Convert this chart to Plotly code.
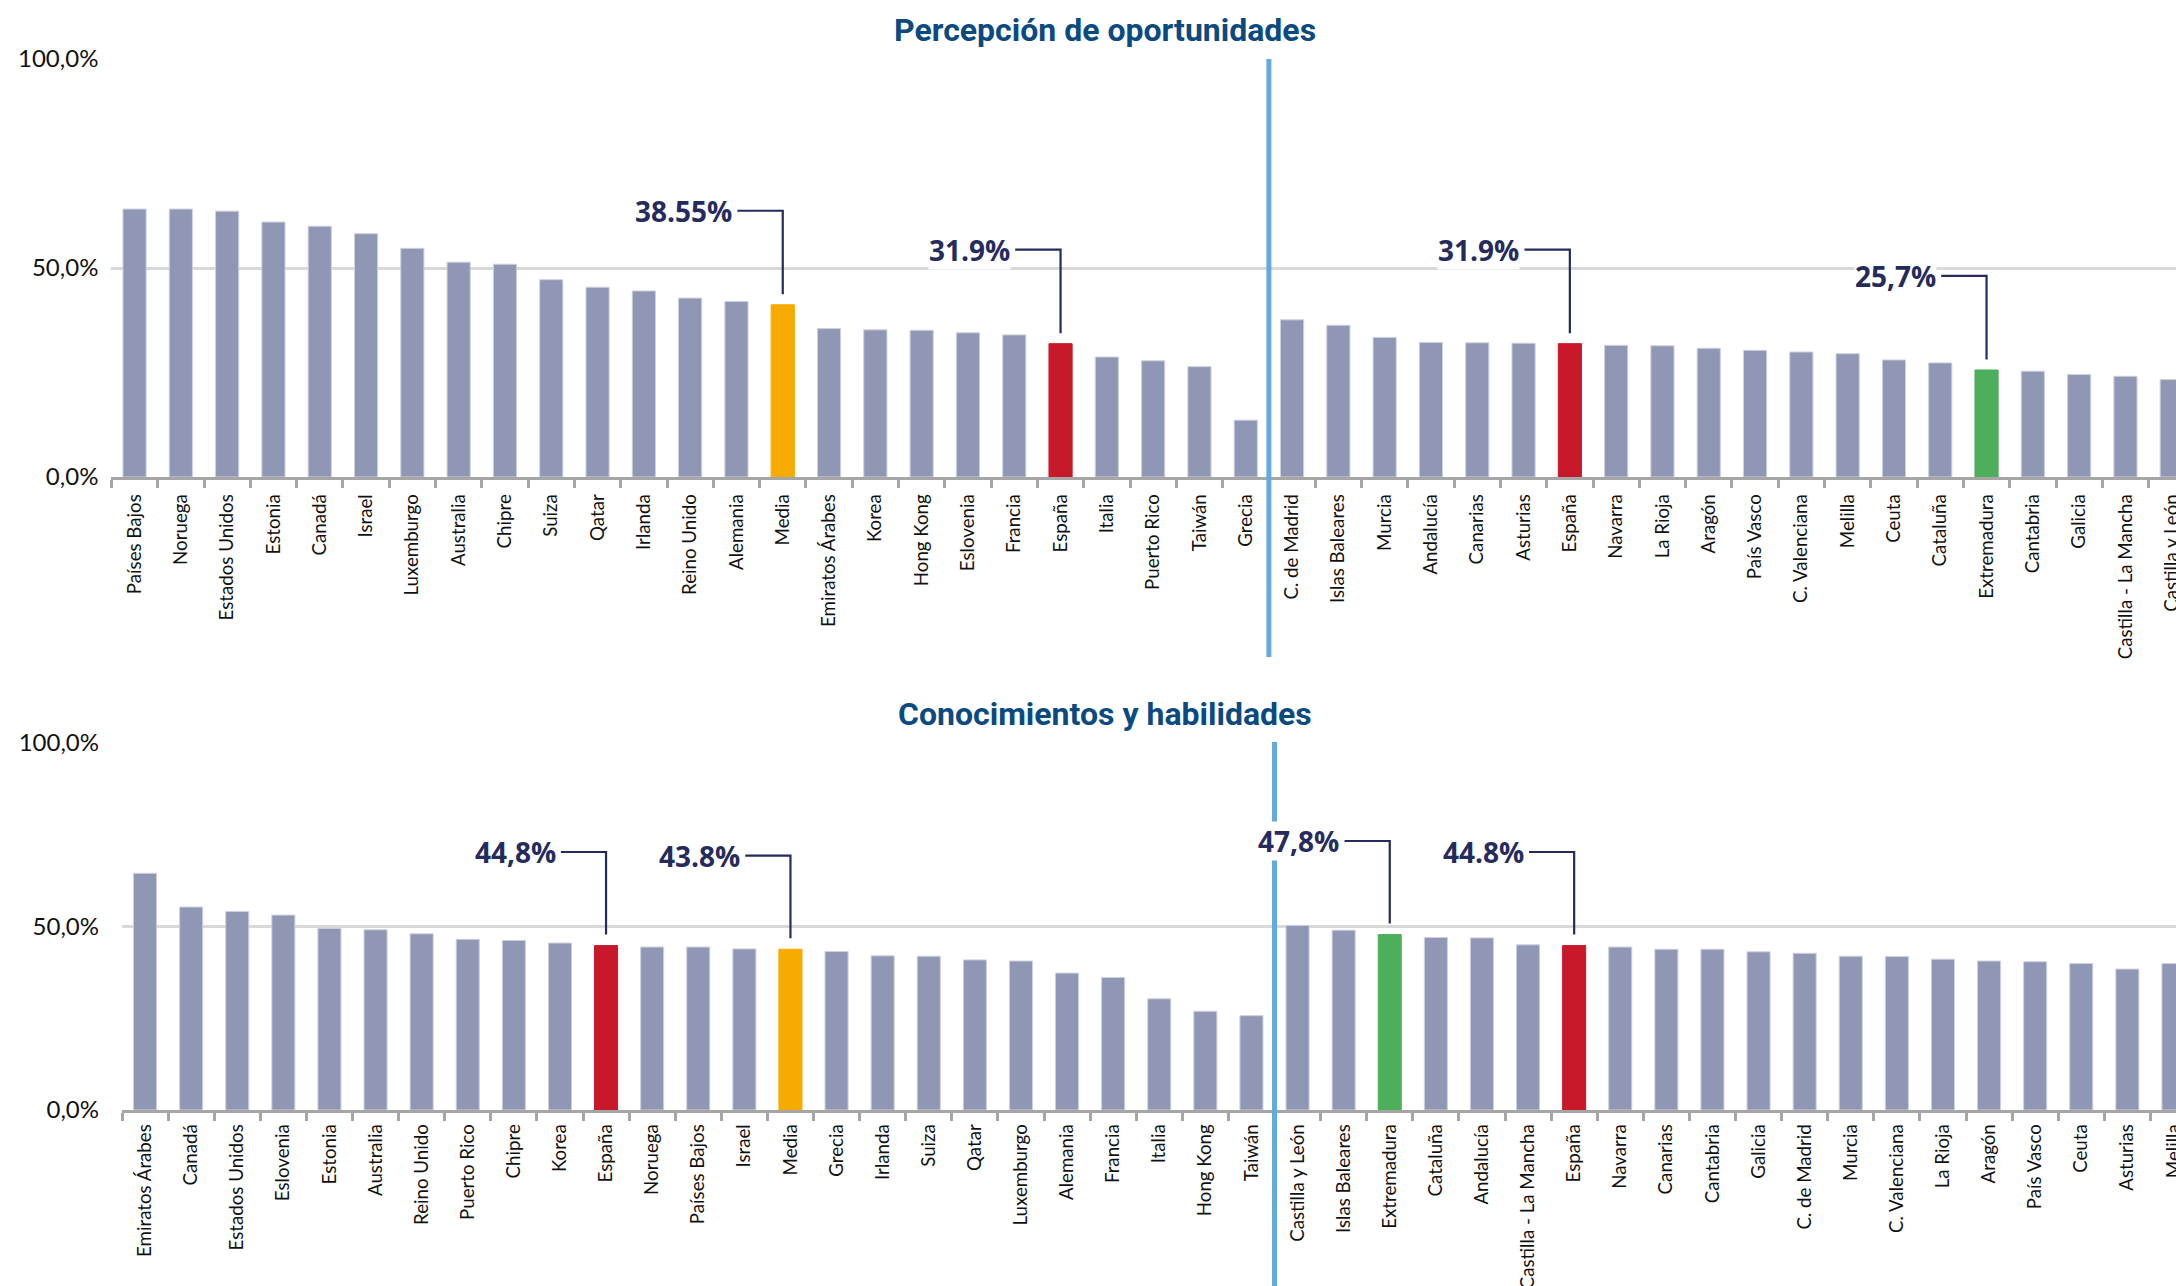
import plotly.graph_objects as go

# ---------------- DATA ----------------
top_title = "Percepción de oportunidades"
bottom_title = "Conocimientos y habilidades"

top_labels = ["Países Bajos", "Noruega", "Estados Unidos", "Estonia", "Canadá", "Israel",
              "Luxemburgo", "Australia", "Chipre", "Suiza", "Qatar", "Irlanda", "Reino Unido",
              "Alemania", "Media", "Emiratos Árabes", "Korea", "Hong Kong", "Eslovenia",
              "Francia", "España", "Italia", "Puerto Rico", "Taiwán", "Grecia",
              "C. de Madrid", "Islas Baleares", "Murcia", "Andalucía", "Canarias", "Asturias",
              "España", "Navarra", "La Rioja", "Aragón", "País Vasco", "C. Valenciana",
              "Melilla", "Ceuta", "Cataluña", "Extremadura", "Cantabria", "Galicia",
              "Castilla - La Mancha", "Castilla y León"]
top_values = [64.1, 64.1, 63.6, 61.0, 60.0, 58.2, 54.7, 51.4, 50.9, 47.2, 45.4, 44.5, 42.8,
              42.0, 41.2, 35.5, 35.2, 35.1, 34.5, 34.0, 31.9, 28.7, 27.8, 26.4, 13.6,
              37.6, 36.3, 33.4, 32.2, 32.1, 32.0, 31.9, 31.5, 31.4, 30.8, 30.3, 29.9,
              29.5, 28.0, 27.3, 25.6, 25.3, 24.5, 24.1, 23.3]
top_callouts = ["38.55%", "31.9%", "31.9%", "25,7%"]

bottom_labels = ["Emiratos Árabes", "Canadá", "Estados Unidos", "Eslovenia", "Estonia",
                 "Australia", "Reino Unido", "Puerto Rico", "Chipre", "Korea", "España",
                 "Noruega", "Países Bajos", "Israel", "Media", "Grecia", "Irlanda", "Suiza",
                 "Qatar", "Luxemburgo", "Alemania", "Francia", "Italia", "Hong Kong", "Taiwán",
                 "Castilla y León", "Islas Baleares", "Extremadura", "Cataluña", "Andalucía",
                 "Castilla - La Mancha", "España", "Navarra", "Canarias", "Cantabria",
                 "Galicia", "C. de Madrid", "Murcia", "C. Valenciana", "La Rioja", "Aragón",
                 "País Vasco", "Ceuta", "Asturias", "Melilla"]
bottom_values = [64.5, 55.3, 54.1, 53.1, 49.5, 49.1, 48.0, 46.5, 46.2, 45.5, 44.8,
                 44.4, 44.4, 43.9, 43.8, 43.2, 42.0, 41.9, 40.9, 40.6, 37.3, 36.1, 30.3,
                 26.9, 25.7,
                 50.3, 49.0, 47.8, 47.0, 46.9, 45.0, 44.8, 44.4, 43.8, 43.8, 43.1, 42.7,
                 41.9, 41.8, 41.1, 40.6, 40.4, 39.9, 38.4, 39.9]
bottom_callouts = ["44,8%", "43.8%", "47,8%", "44.8%"]

n_countries = 25  # first group (countries) before the separator

y_tickvals = [0, 50, 100]
y_ticktext = ["0,0%", "50,0%", "100,0%"]

# ---------------- STYLE ----------------
W, H = 2176, 1286
GREY = "#8f97b4"
HIGHLIGHT = {"Media": "#f7aa00", "España": "#c8182b", "Extremadura": "#4daf5b"}
NAVY = "#252b5c"
TITLE_BLUE = "#0b4a80"
SEP_BLUE = "#65aadf"
LABEL_FONT = "Lato, Liberation Sans Narrow, sans-serif"

fig = go.Figure()

panels = [
    dict(labels=top_labels, values=top_values, callouts=top_callouts, title=top_title,
         xa="x", ya="y", left=111.4, c0=134.5, step=46.3, ytop=59, ybot=477,
         title_y=30, elbow=22.5, tip=2.5, standoff=12, sep=(59, 657), lab_pad=7),
    dict(labels=bottom_labels, values=bottom_values, callouts=bottom_callouts, title=bottom_title,
         xa="x2", ya="y2", left=122.0, c0=145.0, step=46.1, ytop=743, ybot=1110,
         title_y=714, elbow=25.5, tip=3.0, standoff=22, sep=(742, 1286), lab_pad=4),
]

shapes = []
annotations = []
for k, p in enumerate(panels):
    n = len(p["labels"])
    xs = list(range(n))
    colors = [HIGHLIGHT.get(lab, GREY) for lab in p["labels"]]
    line_cols = ["#cdd0de" if c == GREY else c for c in colors]
    fig.add_trace(go.Bar(x=xs, y=p["values"], marker=dict(color=colors,
                         line=dict(color=line_cols, width=1)),
                         width=0.5, xaxis=p["xa"], yaxis=p["ya"], showlegend=False,
                         hoverinfo="skip"))
    # axes
    rmax = (W - p["left"]) / p["step"] - 0.5
    suffix = "" if k == 0 else "2"
    fig.layout["xaxis" + suffix] = dict(
        domain=[p["left"] / W, 1.0], range=[-0.5, rmax], anchor=p["ya"], automargin=False,
        tickmode="array", tickvals=xs, ticktext=p["labels"], tickangle=-90,
        ticks="outside", ticklen=p["lab_pad"], tickcolor="rgba(0,0,0,0)",
        ticklabeloverflow="allow",
        tickfont=dict(family=LABEL_FONT, size=18.7, color="#111111"),
        showline=True, linecolor="#a6a6a6", linewidth=2.5, showgrid=False, zeroline=False,
        minor=dict(tickmode="array", tickvals=[i - 0.5 for i in range(n + 1)],
                   ticks="outside", ticklen=8, tickcolor="#a6a6a6", tickwidth=2.5,
                   showgrid=False),
        fixedrange=True,
    )
    fig.layout["yaxis" + suffix] = dict(
        domain=[1 - p["ybot"] / H, 1 - p["ytop"] / H], range=[0, 100], anchor=p["xa"],
        automargin=False,
        tickmode="array", tickvals=y_tickvals, ticktext=y_ticktext,
        tickfont=dict(family=LABEL_FONT, size=24, color="#111111"),
        showgrid=True, gridcolor="#d9d9d9", gridwidth=2.5, zeroline=False,
        showline=False, ticks="", ticklabelstandoff=p["standoff"], fixedrange=True,
    )
    # separator line between countries and regions
    shapes.append(dict(type="line", xref=p["xa"], yref="paper",
                       x0=n_countries - 0.5, x1=n_countries - 0.5,
                       y0=1 - p["sep"][1] / H, y1=1 - p["sep"][0] / H,
                       line=dict(color=SEP_BLUE, width=5), layer="above"))
    # title
    annotations.append(dict(text=p["title"], xref="paper", yref="paper",
                            x=1104.5 / W, y=1 - p["title_y"] / H, xanchor="center",
                            yanchor="middle", showarrow=False,
                            font=dict(family="Roboto", size=32, color=TITLE_BLUE,
                                      weight="bold")))
    # callouts on highlighted bars
    hl = [i for i, lab in enumerate(p["labels"]) if lab in HIGHLIGHT]
    for i, txt in zip(hl, p["callouts"]):
        v = p["values"][i]
        ye = v + p["elbow"]
        yt = v + p["tip"]
        shapes.append(dict(type="path", xref=p["xa"], yref=p["ya"],
                           path=f"M {i - 0.98},{ye} L {i},{ye} L {i},{yt}",
                           line=dict(color=NAVY, width=2.2), layer="above"))
        annotations.append(dict(text=txt, xref=p["xa"], yref=p["ya"], x=i - 1.07, y=ye,
                                xanchor="right", yanchor="middle", showarrow=False,
                                bgcolor="white", borderpad=0,
                                font=dict(family="Open Sans", size=28, color=NAVY,
                                          weight="bold")))

fig.update_layout(width=W, height=H, margin=dict(l=0, r=0, t=0, b=0, autoexpand=False),
                  paper_bgcolor="white", plot_bgcolor="white", bargap=0.5,
                  shapes=shapes, annotations=annotations)

fig.write_html("out.html", config={"displayModeBar": False},
               post_script="document.body.style.margin='0px';")
